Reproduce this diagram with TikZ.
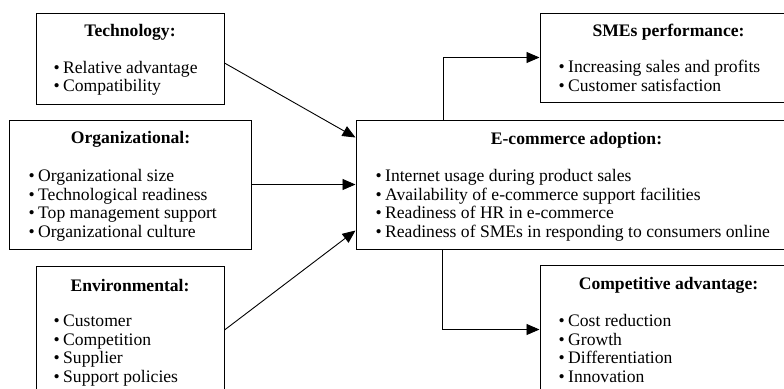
\documentclass[tikz,border=0pt]{standalone}
\usepackage{fontspec}
\setmainfont{Liberation Serif}
\usetikzlibrary{arrows.meta,calc}
\tikzset{
  box/.style={draw=black, line width=1pt, rectangle, inner sep=0pt},
  ttl/.style={font=\fontsize{17.6}{18.5}\selectfont\bfseries, anchor=base, inner sep=0pt},
  itm/.style={font=\fontsize{17.6}{18.5}\selectfont, anchor=base west, inner sep=0pt},
  arr/.style={line width=0.9pt, -{Triangle[length=13pt,width=11pt]}}
}
\newcommand{\bul}{\llap{\textbullet\hspace{3.5pt}}}
\begin{document}
\begin{tikzpicture}[x=1pt,y=-1pt]
\useasboundingbox (0,0) rectangle (784,388);
\clip (0,0) rectangle (784,388);
% boxes
\node[box, minimum width=188, minimum height=91] (tech) at (130,58.5) {};
\node[box, minimum width=242, minimum height=129] (org) at (130,184.5) {};
\node[box, minimum width=188, minimum height=128] (env) at (130,330) {};
\node[box, minimum width=441, minimum height=129] (ecom) at (576.5,184.5) {};
\node[box, minimum width=257, minimum height=89] (smes) at (668.5,57.5) {};
\node[box, minimum width=257, minimum height=129] (comp) at (668.5,329.5) {};
% titles
\node[ttl] (techT) at (130,36.5) {Technology:};
\node[ttl] (orgT) at (130.5,143.5) {Organizational:};
\node[ttl] (envT) at (130,291) {Environmental:};
\node[ttl] (ecomT) at (576.5,144.5) {E-commerce adoption:};
\node[ttl] (smesT) at (668.5,36.5) {SMEs performance:};
\node[ttl] (compT) at (668.5,289.5) {Competitive advantage:};
% items
\foreach \t [count=\i] in {Relative advantage, Compatibility}
  \node[itm] (techI\i) at (63,73.3+18.5*\i-18.5) {\bul\t};
\foreach \t [count=\i] in {Organizational size, Technological readiness, Top management support, Organizational culture}
  \node[itm] (orgI\i) at (38,181.7+18.5*\i-18.5) {\bul\t};
\foreach \t [count=\i] in {Customer, Competition, Supplier, Support policies}
  \node[itm] (envI\i) at (63,326.7+18.5*\i-18.5) {\bul\t};
\foreach \t [count=\i] in {Internet usage during product sales, Availability of e-commerce support facilities, Readiness of HR in e-commerce, Readiness of SMEs in responding to consumers online}
  \node[itm] (ecomI\i) at (385,181.7+18.5*\i-18.5) {\bul\t};
\foreach \t [count=\i] in {Increasing sales and profits, Customer satisfaction}
  \node[itm] (smesI\i) at (568,72.8+18.5*\i-18.5) {\bul\t};
\foreach \t [count=\i] in {Cost reduction, Growth, Differentiation, Innovation}
  \node[itm] (compI\i) at (568,326.7+18.5*\i-18.5) {\bul\t};
% connectors
\draw[arr] ($(tech.east)+(0,4.5)$) -- ($(ecom.north west)+(0,18)$);
\draw[arr] (org.east) -- (ecom.west);
\draw[arr] (env.east) -- ($(ecom.south west)+(0,-19)$);
\draw[arr] ($(ecom.north west)+(88,0)$) |- (smes.west);
\draw[arr] ($(ecom.south west)+(87,0)$) |- (comp.west);
\end{tikzpicture}
\end{document}
